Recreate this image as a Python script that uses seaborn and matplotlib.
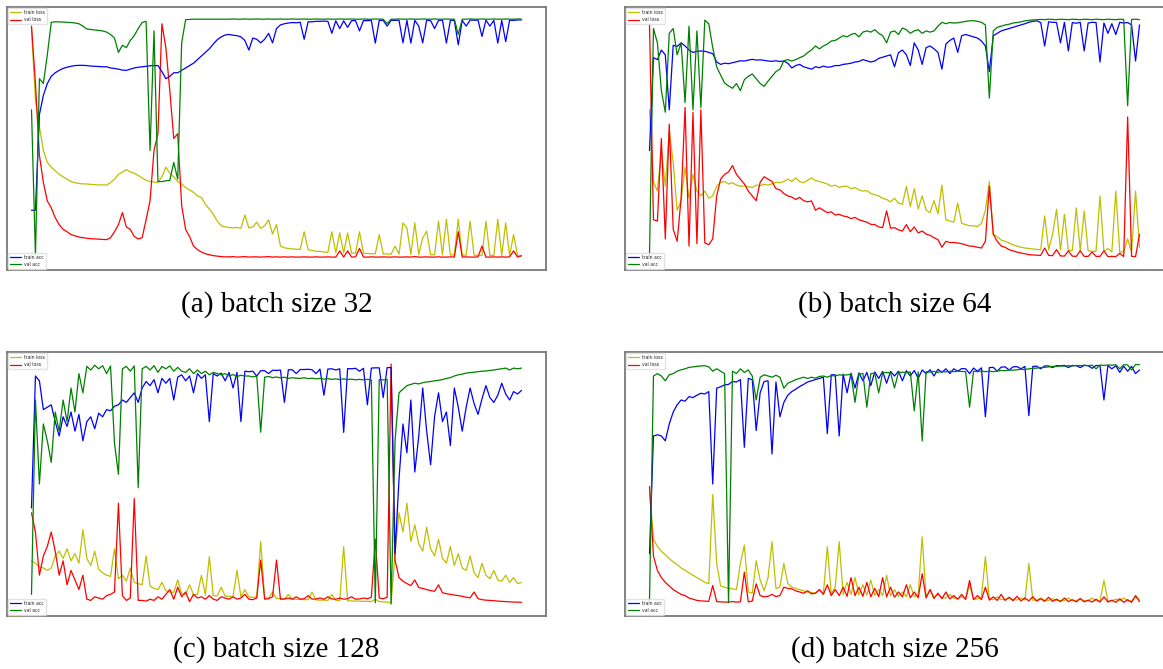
import numpy as np
import matplotlib
matplotlib.use("Agg")
import matplotlib.pyplot as plt
import seaborn as sns

sns.set_style("white")
plt.rcParams["font.family"] = ["DejaVu Sans"]

# ---------------- data (loss/acc in plot units 0..100) ----------------
captions = ["(a) batch size 32", "(b) batch size 64", "(c) batch size 128", "(d) batch size 256"]
series_labels = ["train loss", "val loss", "train acc", "val acc"]

# panel (a) batch size 32
a_train_loss = [96, 66, 55, 45, 40, 38, 36.5, 35, 34, 33,
                32, 31.5, 31.2, 31, 31, 30.8, 30.7, 30.6, 30.6, 30.5,
                31.5, 33, 35, 36, 37, 36, 35.5, 34.5, 33.5, 32.5,
                32, 31.8, 31.6, 34, 38, 35.5, 34, 32, 31, 29.5,
                28.5, 27.5, 26, 25.3, 22.5, 20.5, 18.3, 15.5, 13.5, 13,
                12.8, 12.6, 12.8, 12.5, 18, 12.6, 13, 15, 12.4, 13.5,
                16, 10, 14, 5, 4.3, 4, 3.8, 3.7, 3.6, 11,
                3.5, 3.2, 2.8, 2.8, 2.5, 2.4, 11, 2.3, 10.5, 2.2,
                10.5, 2.1, 2, 11, 2, 1.9, 1.8, 1.8, 9.8, 1.7,
                1.7, 1.6, 5, 1.6, 14.7, 12.6, 1.5, 14.7, 1.5, 8.4,
                11.2, 1.4, 1.4, 15.4, 1.4, 16.2, 1.3, 1.3, 16.2, 1.2,
                1.2, 15.4, 1.2, 1.1, 1.1, 15.4, 1.1, 1.1, 16.2, 1.0,
                14.7, 1.0, 9.8, 1.0, 0.8]
a_val_loss = [97, 73, 43, 31.6, 23.9, 21, 16.9, 14, 12, 11,
              9.8, 9.3, 8.8, 8.5, 8.3, 8.1, 8, 7.9, 7.8, 7.7,
              8.5, 11, 14, 19, 13, 12, 9, 8, 8.5, 16,
              24, 45, 52, 98, 88, 70, 50, 52, 22, 12,
              9, 5, 3.5, 2.5, 1.8, 1.4, 1, 0.8, 0.6, 0.5,
              0.5, 0.6, 0.4, 0.5, 0.6, 0.4, 0.5, 0.5, 0.4, 0.5,
              0.6, 0.4, 0.5, 0.4, 0.5, 0.4, 0.5, 0.4, 0.4, 0.5,
              0.4, 0.4, 0.5, 0.4, 0.4, 0.5, 0.4, 0.4, 3, 0.4,
              3, 0.4, 0.5, 4, 0.4, 0.4, 0.5, 0.4, 0.4, 0.5,
              0.4, 0.4, 0.5, 0.4, 0.4, 0.5, 0.4, 0.6, 0.4, 0.4,
              0.5, 0.4, 0.4, 0.5, 0.4, 0.4, 0.5, 0.4, 11, 0.4,
              0.5, 0.4, 0.4, 0.5, 5, 0.4, 0.4, 0.5, 0.4, 0.5,
              0.4, 0.5, 3, 0.4, 1.0]
a_train_acc = [20, 20, 60, 68, 73, 76, 77.5, 78.5, 79.3, 79.8,
               80.2, 80.5, 80.6, 80.6, 80.5, 80.3, 80.2, 80.1, 80, 80,
               79.5, 79.3, 79, 78.6, 78.5, 79, 79.5, 79.8, 80, 80.2,
               80.4, 80.5, 80.5, 78, 75, 76, 77.5, 77.5, 78.5, 79.5,
               80.5, 81.5, 83, 84.5, 86, 87.5, 89.5, 91.3, 92.5, 93.3,
               93.5, 93.2, 93, 92.5, 91, 87, 92, 91.5, 90, 91.5,
               94, 90, 96, 97.5, 98, 98.3, 98.5, 98.4, 98.6, 91.5,
               98.8, 98.8, 99, 99, 99.1, 99, 94, 99.2, 96, 99.2,
               96.5, 99.3, 99.3, 95, 99.3, 99.3, 99.4, 89.9, 99.4, 99.4,
               97, 99.4, 99.4, 99.5, 90, 99.4, 89.9, 99.4, 97, 90,
               99.5, 99.3, 96, 99.4, 99.5, 89.9, 99.4, 99.4, 89.2, 99.4,
               97, 99.5, 99.5, 99.5, 92.7, 99.5, 97, 99.4, 89.9, 99.4,
               90.5, 99.5, 99.4, 99.6, 99.6]
a_val_acc = [62, 1, 75, 73, 85, 98.6, 98.8, 98.8, 98.7, 98.6,
             98.5, 98.3, 98, 97, 95.8, 95.6, 95.4, 95.2, 95, 94.5,
             93.5, 92, 86, 89, 88, 91, 93, 96, 98.5, 99,
             45, 95, 32, 32, 32.3, 32.5, 40, 33, 90, 99.7,
             99.8, 99.9, 99.9, 99.9, 99.9, 99.9, 99.9, 99.9, 99.9, 99.9,
             99.9, 100, 99.9, 99.9, 100, 99.9, 99.9, 100, 99.9, 99.9,
             100, 99.9, 99.9, 100, 99.9, 99.9, 100, 99.9, 99.9, 100,
             99.9, 99.9, 100, 99.9, 99.9, 100, 99.9, 99.9, 100, 99.9,
             99.9, 100, 99.9, 99.9, 100, 99.9, 99.9, 100, 99.9, 99.9,
             98, 99.9, 99.9, 100, 99.9, 99.9, 100, 99.9, 99.9, 100,
             99.9, 99.9, 100, 99.9, 99.9, 100, 99.9, 99.9, 93.5, 99.9,
             99.9, 100, 99.9, 99.9, 100, 99.9, 99.9, 100, 99.9, 99.9,
             100, 99.9, 99.9, 100, 99.9]

# panel (b) batch size 64
b_train_loss = [62, 32, 28, 45, 30, 53, 40, 20, 24, 38,
                25, 35, 28, 26, 28, 25, 26, 30, 31.7, 32,
                31, 31.5, 30.5, 30, 30.2, 29.8, 29.5, 30.5, 30.3, 30.8,
                30.5, 31, 31.7, 31.5, 32, 33, 32, 33.5, 32, 31.5,
                32.5, 33.5, 32.4, 32, 31.5, 31, 30, 30.5, 29.5, 30,
                30, 29, 29.5, 28.5, 28, 28.2, 27, 26.5, 26, 25,
                24.5, 23.5, 25, 23, 22.5, 30, 21.5, 29, 20.5, 26,
                20, 19, 24, 18.5, 30.5, 16, 15.5, 15, 23, 14.5,
                14, 13.5, 13.5, 13.2, 14.5, 20, 32, 10, 9, 7.5,
                7, 6.3, 5.5, 5, 4.5, 4.2, 4, 3.8, 3.6, 3.5,
                17.6, 3.5, 9.9, 20.4, 3.3, 18.3, 3.2, 3.2, 21, 3,
                19.7, 3, 2.8, 2.8, 26, 2.7, 4, 2.6, 28, 2.5,
                2.6, 8, 2.5, 28, 4.5]
b_val_loss = [98, 16, 15.5, 50, 8, 56, 12, 7, 25, 63,
              5, 61, 6, 62, 6.3, 5.6, 8, 26, 33, 35,
              36, 38.7, 35, 33, 31, 28, 26, 24, 31.7, 34,
              33, 32, 29, 28.5, 27, 26, 25.5, 24.5, 25.4, 24,
              23.5, 23.9, 20, 21, 20, 19, 19.3, 18, 18.3, 17.6,
              17.3, 16.5, 17, 16, 15.5, 15, 14.1, 14, 13, 12.7,
              19.7, 12.5, 12.7, 11.8, 11.3, 14, 11, 13, 10.5, 11.3,
              10, 9.5, 8.5, 7.7, 4.5, 7, 6.5, 6.5, 6.3, 6,
              5.5, 5, 4.9, 4.5, 4.2, 7, 30, 9.9, 7, 5,
              4.5, 3.5, 3, 2.5, 2.1, 1.8, 1.4, 1.3, 1.2, 1.1,
              4.2, 1.1, 1, 3.5, 0.9, 0.8, 3, 0.8, 0.7, 3,
              0.7, 0.7, 2.5, 0.7, 0.7, 3, 0.6, 0.7, 0.6, 2,
              0.6, 59, 0.7, 0.6, 9.9]
b_train_acc = [45, 83.8, 83, 87, 85, 62, 89, 88.5, 90, 88.7,
               87, 86, 86.5, 86.6, 86.5, 86, 85.5, 82, 81, 81.5,
               81.3, 81.7, 82.1, 82.5, 82.4, 82.8, 83.1, 82.8, 82.9, 82.7,
               82.4, 82.3, 82.5, 82.2, 82.4, 81.5, 79.5, 80.5, 81, 80,
               79.5, 79, 80, 79.6, 80.3, 79.8, 80, 80.5, 80.5, 81,
               81.2, 81.5, 82, 82.2, 83, 82.5, 82, 82.4, 83.5, 84,
               84.5, 85, 80, 85.9, 87, 85, 80.5, 90, 87, 81,
               88, 88.7, 87.5, 86, 79, 89.5, 91, 92, 86, 93,
               93.5, 93, 92.5, 92, 90.8, 88.7, 78, 93, 94, 95,
               95.5, 96, 96.5, 97, 97.5, 98, 98.6, 99, 99.2, 98.5,
               88.7, 98.8, 98.6, 98.5, 90, 98.6, 86.6, 98.5, 98.2, 98.6,
               86.6, 98.3, 98.6, 98.5, 82, 98.3, 94, 98, 93.5, 98.6,
               98.3, 98.5, 97.5, 82.4, 97.5]
b_val_acc = [1, 96, 90, 70, 61, 94, 96, 85, 90, 65,
             97, 62, 95, 63, 99.5, 98, 88, 80, 76.5, 73.2,
             72, 71, 73, 70, 74.6, 76, 77, 75, 73, 71.8,
             74, 76, 78, 79, 82.5, 83, 82.4, 83, 83.8, 84.5,
             85.9, 87, 88.7, 87.5, 88.7, 89.5, 90.8, 91, 92, 93,
             92.5, 93.5, 94, 92.5, 94.5, 95, 94.5, 95.5, 94, 93,
             90, 94.5, 95, 93.5, 96.2, 95.5, 94, 95, 95.5, 94,
             95, 94.5, 95, 97, 98.6, 98, 98.5, 98.3, 98.4, 98.7,
             99, 99.2, 99.3, 99, 98.6, 97.5, 66.9, 95, 96.5, 97,
             97.5, 97.8, 98.3, 98.5, 98.8, 99.2, 99.4, 99.6, 99.7, 99.8,
             99.7, 99.9, 99.8, 99.7, 99.9, 99.8, 99.7, 99.9, 99.8, 99.7,
             99.9, 99.8, 99.7, 99.9, 99.8, 99.7, 99.9, 99.8, 99.7, 99.9,
             99.8, 63.7, 99.8, 99.9, 99.7]

# panel (c) batch size 128
c_train_loss = [18, 17, 15.5, 15, 14, 15, 20, 22, 19, 23,
                18, 21, 17, 31, 19, 16, 22, 14.5, 13, 12,
                11.5, 23, 10.5, 12, 9.5, 15, 9, 8.5, 8, 20,
                7.5, 6.5, 6, 9, 5.5, 5, 4.8, 10, 4.2, 4,
                8, 3.9, 4, 12, 3.7, 19.7, 3.5, 3.4, 7, 3.3,
                3.2, 3.1, 14, 3, 6, 2.9, 2.8, 2.8, 26, 2.6,
                2.5, 5, 2.3, 2.2, 2.1, 4, 2, 1.9, 2, 1.8,
                1.8, 5, 1.7, 1.6, 1.6, 1.5, 4, 1.5, 1.4, 23.9,
                1.3, 1.3, 1.2, 1.2, 1.1, 1.1, 1.0, 2, 1.0, 0.9,
                0.8, 0.5, 21, 38, 30, 42, 26, 33, 25, 22,
                32, 23, 20, 27, 19, 17, 24, 16, 21, 15,
                14, 20, 13, 11, 17, 12, 10.5, 14, 10, 9.5,
                12, 9, 11, 8.5, 9]
c_val_loss = [38, 30, 12, 20, 24, 30, 22, 12, 18, 8,
              14, 10, 6, 12, 2, 1.5, 3, 2.5, 2, 3.5,
              4, 5, 42, 3.5, 1.5, 2.5, 44, 1.5, 1.5, 1.2,
              2, 1.5, 3, 2, 4, 6, 2, 7, 3, 5,
              1, 4, 2.5, 3, 2, 3.5, 2, 1.5, 3, 2.5,
              2, 3, 2, 2.5, 4, 2, 1.8, 2.5, 18.3, 2,
              2.2, 3, 18.3, 2, 2.1, 2.5, 2, 3, 2, 2.2,
              3.5, 2, 2.1, 2.5, 2, 3, 2.1, 2, 2.5, 2,
              2.2, 3, 2, 2.1, 2.5, 2.2, 2.8, 27, 2.5, 2.2,
              2.8, 100, 18.3, 11, 9.5, 8.5, 7.7, 10, 6.8, 6.5,
              6, 5.6, 5.3, 8, 4.7, 4.3, 4, 3.7, 3.5, 3.2,
              2.8, 2.6, 5, 2.2, 1.8, 1.6, 1.5, 1.4, 1.2, 1.1,
              1.0, 0.9, 0.8, 0.8, 0.7]
c_train_acc = [40, 95, 93, 81, 82, 83, 76, 70, 78, 74,
               80, 72, 79, 68, 76, 78, 73, 79.5, 78, 81,
               80.5, 82.4, 83, 85, 84, 86, 88, 84, 90, 92.7,
               91, 93.5, 88, 94, 92, 94, 85, 94.5, 95.5, 93,
               95, 88, 96, 94, 95.5, 76, 96, 95, 96.2, 93,
               96.5, 90, 96.5, 76, 97, 96.8, 97, 95, 97.2, 97.2,
               96, 97.4, 97.3, 97.5, 84, 97.6, 97.6, 96, 97.7, 97.7,
               97.8, 97.6, 96, 97.9, 87, 97.9, 98, 97.5, 98, 71.5,
               98.1, 98, 98.2, 97, 98.2, 83, 98.3, 98.4, 98.4, 86,
               98.5, 98.5, 21, 52, 75, 63, 85, 55, 70, 90,
               72, 58, 78, 88, 76, 80, 66, 90, 82, 72,
               82, 90, 83.5, 79, 85.5, 91, 86, 84, 87, 92,
               87.5, 85, 88.5, 87.5, 89]
c_val_acc = [4, 85, 50, 75, 68, 59, 80, 72, 85, 76,
             90, 80, 96, 88, 99, 97.5, 99.5, 98, 99.3, 96,
             99.2, 67, 54, 98, 99, 97, 99.2, 48.5, 98, 99,
             97.5, 99.3, 96.5, 99, 98, 99.2, 97, 98.6, 97, 96.5,
             98, 96, 97.5, 96, 97, 95.5, 96.5, 96, 95.5, 96,
             95, 95.6, 94.8, 95.3, 95, 95, 94.6, 95, 71.6, 94.5,
             94.8, 94.3, 94.6, 94.2, 94.5, 94, 94.3, 94.1, 94, 94.3,
             93.9, 94.1, 93.8, 94, 93.7, 93.9, 93.6, 93.8, 93.5, 93.8,
             93.5, 93.7, 93.4, 93.6, 93.4, 93.6, 93.4, 0.5, 93.5, 93.4,
             93.6, 0, 68, 88, 89.5, 91, 91.5, 92, 91.7, 92.2,
             92.5, 92.7, 93, 93.2, 93.5, 94, 94.3, 95, 95.5, 95.8,
             96.2, 96.4, 96.6, 96.8, 97, 97.1, 97.3, 97.5, 97.8, 98,
             98.3, 97.5, 98.3, 98, 98.3]

# panel (d) batch size 256
d_train_loss = [48, 27, 24, 22, 20.5, 19, 17.5, 16.5, 15, 14,
                13, 12, 11, 10, 9, 8.5, 45.6, 17, 7.5, 7,
                6.5, 6.3, 6, 16.9, 24.6, 5, 4.5, 18, 10, 5.5,
                11, 26, 6.5, 7, 16.9, 8.5, 7, 6.5, 6, 5.5,
                5, 4.8, 4.5, 6, 4.3, 23.9, 4.2, 7, 26, 4,
                9, 4, 11, 3.8, 8, 3.7, 10, 3.6, 6, 3.5,
                12, 3.4, 6, 3.2, 5, 3.1, 8, 3, 4, 28,
                3, 6, 2.8, 4, 2.6, 2.5, 4, 2.4, 2.3, 3,
                2.2, 8, 2.1, 2.1, 3, 19.7, 2, 1.9, 3, 1.9,
                1.8, 2.5, 1.8, 1.7, 2.5, 1.7, 16.9, 1.6, 1.6, 2.5,
                1.5, 1.5, 2.2, 1.5, 1.4, 1.4, 2.5, 1.4, 1.4, 2,
                1.4, 1.3, 2.5, 1.3, 1.3, 9.8, 1.3, 1.3, 2, 1.3,
                2.5, 1.3, 1.3, 3, 2]
d_val_loss = [49, 20, 14, 11, 9, 7.5, 6, 5, 4, 3.5,
              2.5, 2, 1.5, 1.3, 1.2, 1.1, 7.7, 1, 0.9, 0.8,
              0.8, 1, 0.8, 0.9, 13.3, 0.9, 1.2, 8.4, 3.5, 3,
              3.2, 4, 3.1, 3.5, 7, 6.5, 6.3, 5.5, 5, 4.5,
              5.5, 4.2, 4.5, 6, 4, 8, 3.5, 6, 3.5, 7,
              3.2, 11, 3.5, 7, 3.2, 9, 3, 6.5, 3.1, 11,
              3, 7, 2.8, 5, 3, 8, 2.6, 5, 2.6, 12.6,
              2.5, 6, 2.3, 4.5, 2.2, 5, 2.1, 3.5, 2, 4,
              1.9, 9.8, 1.8, 3.5, 1.8, 7, 1.6, 3, 1.5, 4,
              1.5, 2.8, 1.4, 3.2, 1.3, 2.5, 1.3, 3, 1.2, 2.2,
              1.1, 2.8, 1.1, 2, 1, 2.5, 1, 1.8, 0.9, 2.3,
              0.9, 1.6, 0.8, 2, 0.8, 3, 0.8, 1.6, 0.7, 2.2,
              0.7, 1.8, 0.7, 3.5, 1]
d_train_acc = [21, 70, 70.5, 70, 68, 75, 80, 83, 85, 84.5,
               86.4, 86, 87, 87.8, 87.5, 88.5, 50, 89.9, 90.5, 91.3,
               91.5, 92.7, 92.5, 93.5, 65.3, 94, 93.5, 72.3, 88, 92.7,
               93, 62.5, 92.5, 78, 84, 87, 88.5, 89.5, 90.6, 91.5,
               92.5, 93, 93.5, 94, 94.5, 71, 95.5, 95.5, 70, 95.8,
               88, 96.2, 90, 96.3, 93, 96.5, 91, 96.7, 94, 96.9,
               92, 96.9, 95, 97, 93, 97.2, 95, 97.3, 94, 97.5,
               96, 97.6, 95, 97.8, 96.5, 98, 96, 98, 97, 98.1,
               98, 96, 98.3, 97, 98.4, 78, 98.5, 98.6, 97, 98.7,
               98.8, 97.5, 98.8, 98.9, 98, 99, 78.5, 99, 99.1, 98,
               99.2, 99.2, 98.5, 99.3, 99.3, 99.4, 98.5, 99.4, 99.3, 98.5,
               99.4, 99.3, 98.2, 99.4, 99.3, 85, 99.3, 98, 99.2, 96.5,
               99.1, 97, 99, 96, 97.5]
d_val_acc = [1.5, 95, 96, 95, 93, 95.5, 96, 97, 97.6, 98,
             98.6, 98.8, 99, 99.2, 99.3, 98.8, 97, 98, 97, 96,
             0.5, 97, 96, 98, 96.5, 97.5, 95, 85, 94.5, 95.5,
             95, 94.5, 95.3, 94.5, 89.9, 92, 92.7, 93.5, 94, 94.5,
             94, 94.5, 94.1, 94.8, 95, 94.5, 95.2, 95, 95.5, 95.3,
             95.5, 95.7, 84, 95.8, 96, 82, 96, 96.2, 88, 96.3,
             96.5, 96.3, 90, 96.5, 96.6, 96.4, 96.7, 80.5, 96.7, 68,
             96.8, 96.6, 96.9, 96.5, 96.9, 96.7, 97, 96.8, 97, 96.9,
             96.8, 82, 97, 96.8, 97.1, 96.8, 97, 96.8, 97.1, 97.3,
             97.2, 97.5, 97.4, 97.6, 97.8, 97.7, 98, 98.2, 98.3, 98.5,
             98.6, 98.8, 99, 99, 99.2, 99.1, 99.3, 99.2, 99.4, 99.3,
             99.5, 99.3, 99.5, 98, 99.6, 99.4, 99.6, 99.5, 99.7, 98,
             99.7, 99.6, 97.5, 99.8, 99.7]

panels = [
    (a_train_loss, a_val_loss, a_train_acc, a_val_acc),
    (b_train_loss, b_val_loss, b_train_acc, b_val_acc),
    (c_train_loss, c_val_loss, c_train_acc, c_val_acc),
    (d_train_loss, d_val_loss, d_train_acc, d_val_acc),
]

# ---------------- layout ----------------
W, H = 1163, 669
fig = plt.figure(figsize=(W / 100, H / 100), dpi=100)
fig.patch.set_facecolor("white")

# frame boxes in pixels: (left, top, right, bottom)
boxes = [(7, 7, 546, 270), (625, 7, 1164, 270), (7, 352, 546, 616), (625, 352, 1164, 616)]
caption_y = [312, 312, 657, 657]

colors = ["y", "r", "b", "g"]

for k, (box, data) in enumerate(zip(boxes, panels)):
    l, t, r, b = box
    ax1 = fig.add_axes([l / W, 1 - b / H, (r - l) / W, (b - t) / H])
    ax2 = ax1.twinx()
    tl, vl, ta, va = data
    steps = np.arange(len(tl))
    sns.lineplot(x=steps, y=tl, ax=ax1, color=colors[0], linewidth=0.9, label=series_labels[0])
    sns.lineplot(x=steps, y=vl, ax=ax1, color=colors[1], linewidth=0.9, label=series_labels[1])
    sns.lineplot(x=steps, y=ta, ax=ax2, color=colors[2], linewidth=0.9, label=series_labels[2])
    sns.lineplot(x=steps, y=va, ax=ax2, color=colors[3], linewidth=0.9, label=series_labels[3])
    for ax in (ax1, ax2):
        ax.set_ylim(-5, 105)
        ax.set_xticks([])
        ax.set_yticks([])
        ax.set_xlabel("")
        ax.set_ylabel("")
        ax.margins(x=0.05)
    for sp in ax1.spines.values():
        sp.set_color("#7a7a7a")
        sp.set_linewidth(1.3)
    for sp in ax2.spines.values():
        sp.set_visible(False)
    leg_kw = dict(fontsize=3.3, handlelength=2.3, borderaxespad=0.25, borderpad=0.4,
                  labelspacing=0.5, handletextpad=0.8, framealpha=0.85, edgecolor="#dddddd",
                  fancybox=True)
    lg1 = ax1.legend(loc="upper left", **leg_kw)
    lg2 = ax2.legend(loc="lower left", **leg_kw)
    lg1.set_zorder(10)
    cx = (l + min(r, 1164)) / 2
    fig.text(cx / W, 1 - caption_y[k] / H, captions[k], ha="center", va="baseline",
             fontsize=21, family=["Liberation Serif", "DejaVu Serif"], color="black")

fig.savefig("out.png", dpi=100, facecolor="white")
